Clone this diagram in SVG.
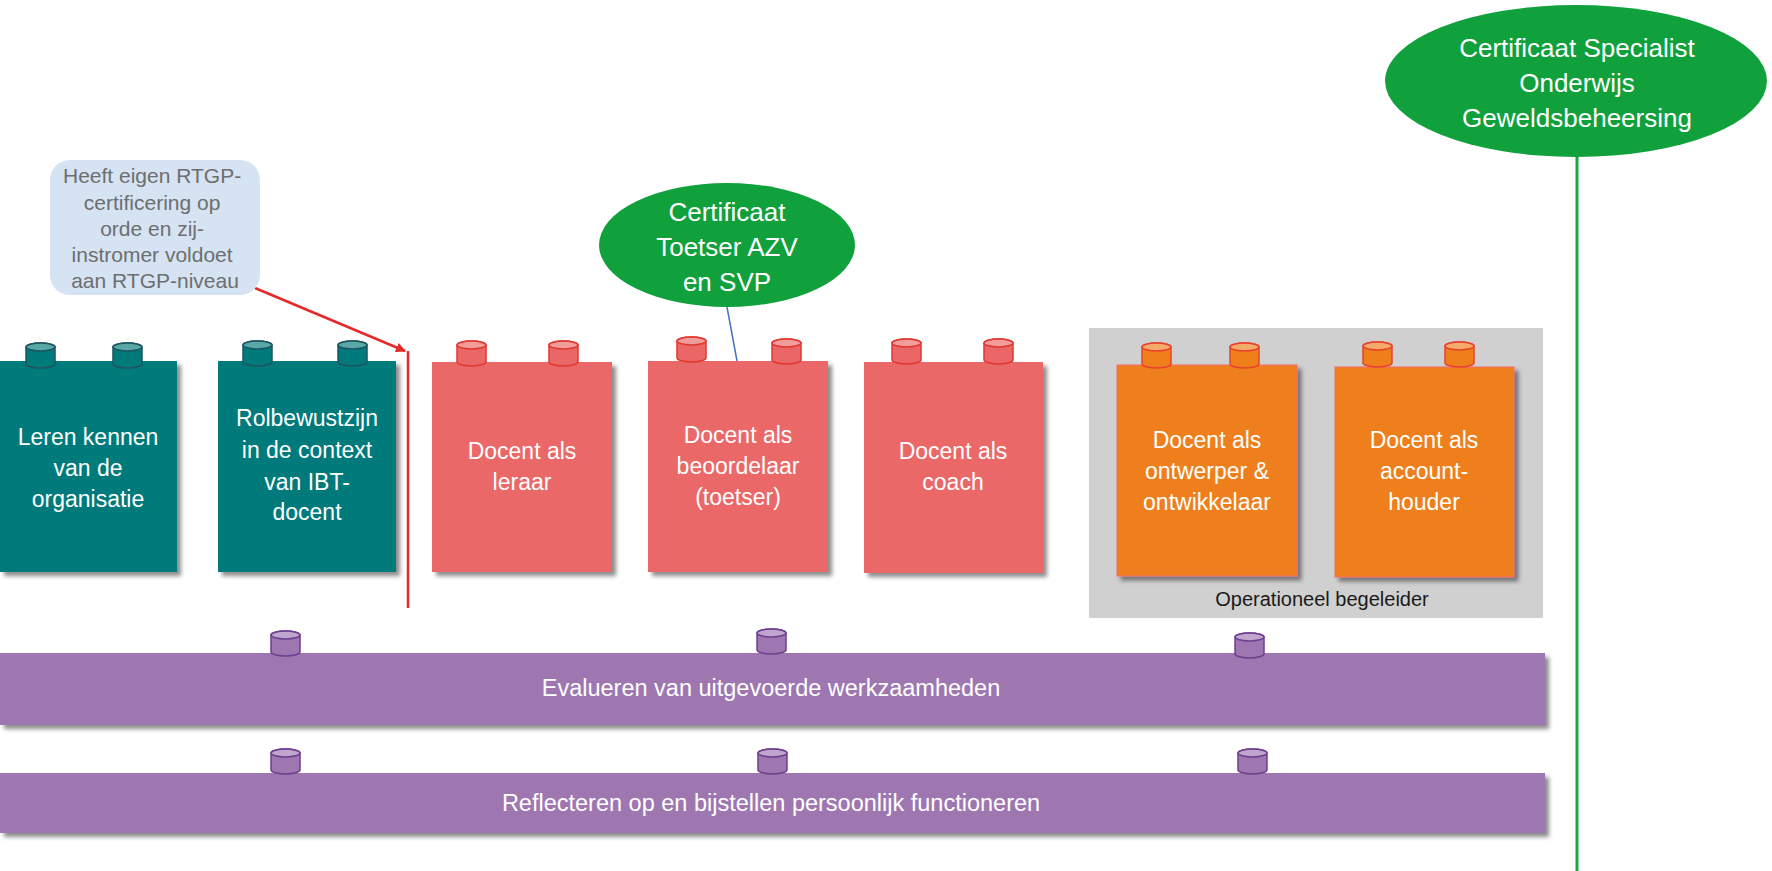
<svg xmlns="http://www.w3.org/2000/svg" xmlns:xlink="http://www.w3.org/1999/xlink" width="1772" height="871" viewBox="0 0 1772 871">
<defs>
<filter id="sh" x="-5%" y="-5%" width="115%" height="120%">
<feDropShadow dx="4" dy="4" stdDeviation="2" flood-color="#000" flood-opacity="0.45"/>
</filter>
<g id="cyl">
<path d="M0,4 A14.5,4 0 0 1 29,4 V21 A14.5,4 0 0 1 0,21 Z"/>
<ellipse cx="14.5" cy="4" rx="14.5" ry="4" fill="#ffffff" fill-opacity="0.35"/>
</g>
<marker id="arr" markerWidth="10" markerHeight="10" refX="9" refY="5" orient="auto" markerUnits="userSpaceOnUse">
<path d="M0,0 L10,5 L0,10 Z" fill="#e52a2a"/>
</marker>
</defs>
<style>
text{font-family:"Liberation Sans",Arial,sans-serif;text-anchor:middle}
.bt{font-size:23px;fill:#ffffff}
.teal{fill:#007a7a}
.red{fill:#eb6767}
.orange{fill:#ee7f1b;stroke:#f26b6b;stroke-width:1}
.purple{fill:#9e77b1}
.green{fill:#10a03c}
.ct{fill:#007a7a;stroke:#1d5560;stroke-width:1.5}
.cr{fill:#eb6767;stroke:#e0392f;stroke-width:1.5}
.co{fill:#ee7f1b;stroke:#e8432c;stroke-width:1.5}
.cp{fill:#9e77b1;stroke:#6f3f8f;stroke-width:1.5}
.gt{font-size:26px;fill:#ffffff}
</style>
<rect width="1772" height="871" fill="#ffffff"/>

<g id="operationeel-begeleider">
<rect x="1089" y="328" width="454" height="290" fill="#d0d0d0"/>
<text x="1322" y="606" style="font-size:20px;fill:#1a1a1a">Operationeel begeleider</text>
</g>

<g id="connectors">
<line x1="255" y1="288" x2="405" y2="351" stroke="#e52a2a" stroke-width="2.5" marker-end="url(#arr)"/>
<line x1="408" y1="351" x2="408" y2="608" stroke="#e52a2a" stroke-width="2.5"/>
<line x1="727" y1="307" x2="737" y2="361" stroke="#4472c4" stroke-width="1.5"/>
<line x1="1577" y1="156" x2="1577" y2="871" stroke="#12a83f" stroke-width="3"/>
</g>

<g id="callout">
<rect x="50" y="160" width="210" height="135" rx="20" fill="#d5e3f3"/>
<text style="font-size:21px;fill:#6e6e6e">
<tspan x="155" y="183">Heeft eigen RTGP-</tspan>
<tspan x="155" y="210">certificering op</tspan>
<tspan x="155" y="236">orde en zij-</tspan>
<tspan x="155" y="262">instromer voldoet</tspan>
<tspan x="155" y="288">aan RTGP-niveau</tspan>
</text>
</g>

<g id="leren-kennen">
<rect class="teal" x="0" y="361" width="177" height="211" filter="url(#sh)"/>
<use xlink:href="#cyl" class="ct" x="26" y="343"/>
<use xlink:href="#cyl" class="ct" x="113" y="343"/>
<text class="bt"><tspan x="88" y="445">Leren kennen</tspan><tspan x="88" y="476">van de</tspan><tspan x="88" y="507">organisatie</tspan></text>
</g>

<g id="rolbewustzijn">
<rect class="teal" x="218" y="361" width="178" height="211" filter="url(#sh)"/>
<use xlink:href="#cyl" class="ct" x="243" y="341"/>
<use xlink:href="#cyl" class="ct" x="338" y="341"/>
<text class="bt"><tspan x="307" y="426">Rolbewustzijn</tspan><tspan x="307" y="458">in de context</tspan><tspan x="307" y="490">van IBT-</tspan><tspan x="307" y="520">docent</tspan></text>
</g>

<g id="docent-leraar">
<rect class="red" x="432" y="362" width="180" height="210" filter="url(#sh)"/>
<use xlink:href="#cyl" class="cr" x="457" y="341"/>
<use xlink:href="#cyl" class="cr" x="549" y="341"/>
<text class="bt"><tspan x="522" y="459">Docent als</tspan><tspan x="522" y="490">leraar</tspan></text>
</g>

<g id="docent-beoordelaar">
<rect class="red" x="648" y="361" width="180" height="211" filter="url(#sh)"/>
<use xlink:href="#cyl" class="cr" x="677" y="337"/>
<use xlink:href="#cyl" class="cr" x="772" y="339"/>
<text class="bt"><tspan x="738" y="443">Docent als</tspan><tspan x="738" y="474">beoordelaar</tspan><tspan x="738" y="505">(toetser)</tspan></text>
</g>

<g id="docent-coach">
<rect class="red" x="864" y="362" width="179" height="211" filter="url(#sh)"/>
<use xlink:href="#cyl" class="cr" x="892" y="339"/>
<use xlink:href="#cyl" class="cr" x="984" y="339"/>
<text class="bt"><tspan x="953" y="459">Docent als</tspan><tspan x="953" y="490">coach</tspan></text>
</g>

<g id="docent-ontwerper">
<rect class="orange" x="1117" y="365" width="180" height="211" filter="url(#sh)"/>
<use xlink:href="#cyl" class="co" x="1142" y="343"/>
<use xlink:href="#cyl" class="co" x="1230" y="343"/>
<text class="bt"><tspan x="1207" y="448">Docent als</tspan><tspan x="1207" y="479">ontwerper &amp;</tspan><tspan x="1207" y="510">ontwikkelaar</tspan></text>
</g>

<g id="docent-accounthouder">
<rect class="orange" x="1335" y="367" width="179" height="210" filter="url(#sh)"/>
<use xlink:href="#cyl" class="co" x="1363" y="342"/>
<use xlink:href="#cyl" class="co" x="1445" y="342"/>
<text class="bt"><tspan x="1424" y="448">Docent als</tspan><tspan x="1424" y="479">account-</tspan><tspan x="1424" y="510">houder</tspan></text>
</g>

<g id="certificaat-toetser">
<ellipse class="green" cx="727" cy="245" rx="128" ry="62"/>
<text class="gt"><tspan x="727" y="221">Certificaat</tspan><tspan x="727" y="256">Toetser AZV</tspan><tspan x="727" y="291">en SVP</tspan></text>
</g>

<g id="certificaat-specialist">
<ellipse class="green" cx="1576" cy="81" rx="191" ry="76"/>
<text class="gt"><tspan x="1577" y="57">Certificaat Specialist</tspan><tspan x="1577" y="92">Onderwijs</tspan><tspan x="1577" y="127">Geweldsbeheersing</tspan></text>
</g>

<g id="evalueren">
<rect class="purple" x="0" y="653" width="1545" height="72" filter="url(#sh)"/>
<use xlink:href="#cyl" class="cp" x="271" y="631"/>
<use xlink:href="#cyl" class="cp" x="757" y="629"/>
<use xlink:href="#cyl" class="cp" x="1235" y="633"/>
<text x="771" y="696" style="font-size:23.5px;fill:#ffffff">Evalueren van uitgevoerde werkzaamheden</text>
</g>

<g id="reflecteren">
<rect class="purple" x="0" y="773" width="1545" height="60" filter="url(#sh)"/>
<use xlink:href="#cyl" class="cp" x="271" y="749"/>
<use xlink:href="#cyl" class="cp" x="758" y="749"/>
<use xlink:href="#cyl" class="cp" x="1238" y="749"/>
<text x="771" y="811" style="font-size:23.5px;fill:#ffffff">Reflecteren op en bijstellen persoonlijk functioneren</text>
</g>
</svg>
